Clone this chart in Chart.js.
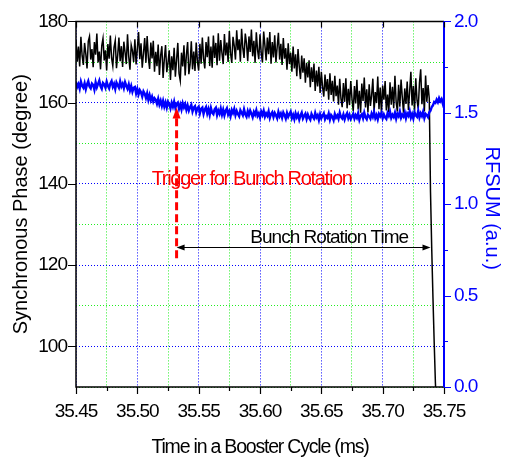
<!DOCTYPE html>
<html>
<head>
<meta charset="utf-8">
<script src="https://cdn.jsdelivr.net/npm/chart.js@4.4.1/dist/chart.umd.min.js"></script>
<style>
  html, body { margin: 0; padding: 0; background: #fff; }
  canvas { display: block; }
</style>
</head>
<body>
<canvas id="chart" width="506" height="457"></canvas>
<script>
// scope samples, 1 us apart
const sampleTimes = [
  35.450, 35.451, 35.452, 35.453, 35.454, 35.455, 35.456, 35.457, 35.458, 35.459,
  35.460, 35.461, 35.462, 35.463, 35.464, 35.465, 35.466, 35.467, 35.468, 35.469,
  35.470, 35.471, 35.472, 35.473, 35.474, 35.475, 35.476, 35.477, 35.478, 35.479,
  35.480, 35.481, 35.482, 35.483, 35.484, 35.485, 35.486, 35.487, 35.488, 35.489,
  35.490, 35.491, 35.492, 35.493, 35.494, 35.495, 35.496, 35.497, 35.498, 35.499,
  35.500, 35.501, 35.502, 35.503, 35.504, 35.505, 35.506, 35.507, 35.508, 35.509,
  35.510, 35.511, 35.512, 35.513, 35.514, 35.515, 35.516, 35.517, 35.518, 35.519,
  35.520, 35.521, 35.522, 35.523, 35.524, 35.525, 35.526, 35.527, 35.528, 35.529,
  35.530, 35.531, 35.532, 35.533, 35.534, 35.535, 35.536, 35.537, 35.538, 35.539,
  35.540, 35.541, 35.542, 35.543, 35.544, 35.545, 35.546, 35.547, 35.548, 35.549,
  35.550, 35.551, 35.552, 35.553, 35.554, 35.555, 35.556, 35.557, 35.558, 35.559,
  35.560, 35.561, 35.562, 35.563, 35.564, 35.565, 35.566, 35.567, 35.568, 35.569,
  35.570, 35.571, 35.572, 35.573, 35.574, 35.575, 35.576, 35.577, 35.578, 35.579,
  35.580, 35.581, 35.582, 35.583, 35.584, 35.585, 35.586, 35.587, 35.588, 35.589,
  35.590, 35.591, 35.592, 35.593, 35.594, 35.595, 35.596, 35.597, 35.598, 35.599,
  35.600, 35.601, 35.602, 35.603, 35.604, 35.605, 35.606, 35.607, 35.608, 35.609,
  35.610, 35.611, 35.612, 35.613, 35.614, 35.615, 35.616, 35.617, 35.618, 35.619,
  35.620, 35.621, 35.622, 35.623, 35.624, 35.625, 35.626, 35.627, 35.628, 35.629,
  35.630, 35.631, 35.632, 35.633, 35.634, 35.635, 35.636, 35.637, 35.638, 35.639,
  35.640, 35.641, 35.642, 35.643, 35.644, 35.645, 35.646, 35.647, 35.648, 35.649,
  35.650, 35.651, 35.652, 35.653, 35.654, 35.655, 35.656, 35.657, 35.658, 35.659,
  35.660, 35.661, 35.662, 35.663, 35.664, 35.665, 35.666, 35.667, 35.668, 35.669,
  35.670, 35.671, 35.672, 35.673, 35.674, 35.675, 35.676, 35.677, 35.678, 35.679,
  35.680, 35.681, 35.682, 35.683, 35.684, 35.685, 35.686, 35.687, 35.688, 35.689,
  35.690, 35.691, 35.692, 35.693, 35.694, 35.695, 35.696, 35.697, 35.698, 35.699,
  35.700, 35.701, 35.702, 35.703, 35.704, 35.705, 35.706, 35.707, 35.708, 35.709,
  35.710, 35.711, 35.712, 35.713, 35.714, 35.715, 35.716, 35.717, 35.718, 35.719,
  35.720, 35.721, 35.722, 35.723, 35.724, 35.725, 35.726, 35.727, 35.728, 35.729,
  35.730, 35.731, 35.732, 35.733, 35.734, 35.735, 35.736, 35.737, 35.738, 35.739,
  35.740, 35.741, 35.742, 35.743, 35.744, 35.745, 35.746, 35.747, 35.748, 35.749,
  35.750
];

// synchronous phase (degree), beam lost after 35.738 ms
const phaseDeg = [
  175.4, 170.1, 173.8, 168.9, 176.2, 171.5, 169.3, 174.7, 172.0, 168.4,
  175.1, 176.3, 170.6, 173.2, 168.7, 174.9, 171.8, 177.0, 169.9, 172.6,
  168.2, 174.0, 175.8, 170.4, 172.9, 167.9, 174.4, 170.8, 176.5, 171.0,
  169.0, 173.6, 175.3, 168.5, 171.7, 176.0, 170.2, 173.9, 168.8, 175.0,
  172.4, 169.5, 176.8, 171.3, 168.1, 174.2, 172.8, 170.0, 175.6, 169.4,
  173.3, 177.4, 170.7, 174.6, 168.6, 172.1, 175.9, 169.8, 176.4, 171.1,
  168.3, 174.8, 170.9, 175.2, 167.6, 172.5, 169.0, 174.3, 166.8, 171.6,
  173.9, 166.1, 170.7, 174.2, 167.5, 169.8, 172.9, 165.6, 171.4, 168.0,
  173.5, 166.4, 170.6, 174.7, 167.2, 165.4, 172.3, 168.9, 174.1, 166.7,
  171.8, 174.9, 167.0, 169.4, 175.1, 168.2, 172.6, 167.8, 174.8, 170.1,
  167.9, 174.5, 169.6, 176.0, 170.8, 168.4, 174.9, 171.2, 176.3, 169.0,
  173.8, 168.6, 176.5, 171.0, 174.7, 169.2, 177.1, 170.3, 175.4, 172.2,
  169.5, 176.9, 171.6, 174.8, 170.0, 177.6, 172.1, 169.8, 176.2, 174.0,
  170.6, 177.8, 172.9, 175.6, 170.1, 178.2, 173.4, 171.0, 177.0, 174.6,
  170.2, 176.3, 172.5, 178.0, 171.4, 175.2, 169.8, 177.3, 173.0, 170.7,
  176.8, 172.2, 169.9, 177.5, 174.1, 170.4, 176.0, 171.9, 177.4, 169.6,
  174.9, 171.1, 176.6, 169.9, 173.7, 177.2, 170.6, 174.5, 169.3,
  175.9, 170.8, 173.4, 168.1, 174.6, 169.5, 172.3, 167.6, 173.8, 168.4,
  171.9, 166.5, 173.2, 168.9, 165.8, 171.6, 167.4, 170.9, 164.9, 169.8,
  166.2, 170.4, 163.8, 168.7, 165.1, 169.6, 162.9, 167.9, 164.0, 168.8,
  162.4, 167.6, 163.9, 161.5, 166.9, 162.8, 165.8, 160.7, 167.2, 161.9,
  165.4, 160.3, 166.6, 161.6, 164.2, 159.5, 165.9, 161.0, 158.9, 164.8,
  160.2, 166.0, 158.6, 163.4, 159.4, 165.3, 160.9, 157.9, 164.1, 159.8,
  165.6, 158.3, 162.9, 157.5, 164.7, 160.4, 166.2, 158.8, 163.3, 157.6,
  164.5, 159.2, 161.8, 165.9, 157.9, 162.6, 159.9, 166.4, 158.4, 163.7,
  157.4, 164.2, 160.7, 165.3, 158.1, 162.0, 157.7, 165.0, 159.5, 163.9,
  158.6, 166.6, 160.1, 157.8, 164.4, 159.0, 165.7, 161.3, 157.5, 163.5,
  159.7, 165.2, 158.2, 162.8, 167.6, 159.3, 164.1, 157.9, 166.0, 160.6,
  158.5, 164.9, 168.2, 159.6, 163.6, 157.8, 166.7, 160.2, 164.3,
  161.0, 138.0, 124.0, 112.0, 101.0, 91.0, 84.0
];

// RF sum signal (a.u.)
const rfsum = [
  1.668, 1.641, 1.657, 1.632, 1.671, 1.648, 1.637, 1.662, 1.629, 1.655,
  1.673, 1.644, 1.634, 1.660, 1.652, 1.626, 1.667, 1.639, 1.658, 1.676,
  1.645, 1.631, 1.664, 1.656, 1.638, 1.670, 1.647, 1.633, 1.661, 1.674,
  1.642, 1.658, 1.630, 1.666, 1.651, 1.637, 1.672, 1.644, 1.659, 1.635,
  1.667, 1.648, 1.631, 1.655, 1.622, 1.646, 1.615, 1.637, 1.641, 1.606,
  1.630, 1.601, 1.624, 1.612, 1.589, 1.617, 1.604, 1.581, 1.606, 1.571,
  1.597, 1.569, 1.588, 1.562, 1.580, 1.571, 1.549, 1.576, 1.545, 1.566,
  1.538, 1.565, 1.534, 1.557, 1.529, 1.560, 1.547, 1.524, 1.555, 1.533,
  1.561, 1.527, 1.549, 1.556, 1.522, 1.545, 1.518, 1.552, 1.530, 1.547,
  1.516, 1.540, 1.512, 1.531, 1.544, 1.507, 1.528, 1.536, 1.503, 1.525,
  1.534, 1.497, 1.522, 1.529, 1.494, 1.518, 1.531, 1.496, 1.520, 1.489,
  1.526, 1.501, 1.493, 1.519, 1.528, 1.488, 1.512, 1.495, 1.523, 1.490,
  1.517, 1.486, 1.511, 1.524, 1.491, 1.508, 1.482, 1.515, 1.499, 1.521,
  1.487, 1.510, 1.493, 1.481, 1.514, 1.500, 1.486, 1.519, 1.492, 1.479,
  1.509, 1.487, 1.512, 1.495, 1.476, 1.505, 1.490, 1.514, 1.483, 1.497,
  1.474, 1.506, 1.488, 1.511, 1.479, 1.497, 1.484, 1.508, 1.472, 1.493,
  1.503, 1.477, 1.499, 1.486, 1.470, 1.505, 1.481, 1.496, 1.473, 1.502,
  1.487, 1.468, 1.499, 1.478, 1.493, 1.506, 1.471, 1.489, 1.465, 1.497,
  1.476, 1.492, 1.463, 1.486, 1.501, 1.469, 1.483, 1.495, 1.466, 1.490,
  1.473, 1.462, 1.494, 1.479, 1.468, 1.499, 1.475, 1.487, 1.461, 1.492,
  1.470, 1.484, 1.497, 1.465, 1.481, 1.472, 1.496, 1.463, 1.488, 1.478,
  1.460, 1.493, 1.474, 1.486, 1.467, 1.500, 1.477, 1.469, 1.491, 1.464,
  1.485, 1.498, 1.471, 1.489, 1.466, 1.480, 1.495, 1.468, 1.487, 1.473,
  1.497, 1.462, 1.484, 1.492, 1.470, 1.501, 1.476, 1.465, 1.490, 1.481,
  1.468, 1.496, 1.478, 1.503, 1.471, 1.488, 1.464, 1.494, 1.482, 1.499,
  1.470, 1.491, 1.475, 1.466, 1.498, 1.483, 1.505, 1.472, 1.489, 1.477,
  1.500, 1.468, 1.494, 1.481, 1.507, 1.473, 1.490, 1.479, 1.502, 1.470,
  1.496, 1.484, 1.509, 1.474, 1.493, 1.469, 1.503, 1.486, 1.478, 1.511,
  1.475, 1.497, 1.482, 1.506, 1.471, 1.494, 1.487, 1.476,
  1.503, 1.512, 1.532, 1.541, 1.559, 1.554, 1.572, 1.558, 1.580, 1.563,
  1.575, 1.551, 1.578
];

// annotation anchors, in axis units (ms / degree)
const triggerTime = 35.532;
const triggerTop = 158.8;
const triggerBottom = 121.7;
const rotationEnd = 35.739;
const rotationLevel = 124.4;
const triggerText = { text: 'Trigger for Bunch Rotation', t: 35.5932, deg: 139.8 };
const rotationText = { text: 'Bunch Rotation Time', t: 35.6564, deg: 125.4 };

const FONT = "'Liberation Sans', Arial, sans-serif";
const BLUE = '#0000ff';

const isMajorX = v => Math.round(v * 1000) % 50 === 0;
const isMajorY = v => Math.round(v) % 20 === 0;
const isMajorY1 = v => Math.round(v * 100) % 50 === 0;

const decorations = {
  id: 'decorations',
  beforeDraw(chart) {
    chart.ctx.letterSpacing = '-1px';
  },
  afterDatasetsDraw(chart) {
    const { ctx, chartArea: a, scales } = chart;
    const { x, y, y1 } = scales;
    ctx.save();
    ctx.setLineDash([]);

    // frame: black on three sides, blue RFSUM axis on the right
    ctx.lineWidth = 1.5;
    ctx.strokeStyle = '#000';
    ctx.beginPath();
    ctx.moveTo(a.right, a.top);
    ctx.lineTo(a.left, a.top);
    ctx.lineTo(a.left, a.bottom);
    ctx.lineTo(a.right, a.bottom);
    ctx.stroke();
    ctx.lineWidth = 2;
    ctx.strokeStyle = BLUE;
    ctx.beginPath();
    ctx.moveTo(a.right, a.top);
    ctx.lineTo(a.right, a.bottom);
    ctx.stroke();

    // tick marks
    ctx.lineWidth = 1.2;
    ctx.strokeStyle = '#000';
    ctx.beginPath();
    x.ticks.forEach(t => {
      const px = Math.round(x.getPixelForValue(t.value)) + 0.5;
      const major = isMajorX(t.value);
      ctx.moveTo(px, a.bottom);
      ctx.lineTo(px, a.bottom + (major ? 7 : 4));
      if (major) {
        ctx.moveTo(px, a.top);
        ctx.lineTo(px, a.top + 6);
      }
    });
    y.ticks.forEach(t => {
      if (!isMajorY(t.value)) return;
      const py = Math.round(y.getPixelForValue(t.value)) + 0.5;
      ctx.moveTo(a.left - 8, py);
      ctx.lineTo(a.left, py);
    });
    ctx.stroke();
    ctx.strokeStyle = BLUE;
    ctx.beginPath();
    y1.ticks.forEach(t => {
      const py = Math.round(y1.getPixelForValue(t.value)) + 0.5;
      ctx.moveTo(a.right, py);
      ctx.lineTo(a.right + (isMajorY1(t.value) ? 7 : 4), py);
    });
    ctx.stroke();

    // trigger marker: dashed red arrow
    const tx = x.getPixelForValue(triggerTime);
    const tipY = y.getPixelForValue(triggerTop);
    ctx.strokeStyle = '#ff0000';
    ctx.fillStyle = '#ff0000';
    ctx.lineWidth = 3;
    ctx.setLineDash([8, 4]);
    ctx.beginPath();
    ctx.moveTo(tx, y.getPixelForValue(triggerBottom));
    ctx.lineTo(tx, tipY + 9);
    ctx.stroke();
    ctx.setLineDash([]);
    ctx.beginPath();
    ctx.moveTo(tx, tipY);
    ctx.lineTo(tx - 4, tipY + 11);
    ctx.lineTo(tx + 4, tipY + 11);
    ctx.closePath();
    ctx.fill();

    // rotation time span
    const ry = Math.round(y.getPixelForValue(rotationLevel)) + 0.5;
    const rx2 = x.getPixelForValue(rotationEnd);
    ctx.strokeStyle = '#000';
    ctx.fillStyle = '#000';
    ctx.lineWidth = 1.2;
    ctx.beginPath();
    ctx.moveTo(tx + 2, ry);
    ctx.lineTo(rx2 - 2, ry);
    ctx.stroke();
    ctx.beginPath();
    ctx.moveTo(tx, ry);
    ctx.lineTo(tx + 8, ry - 3);
    ctx.lineTo(tx + 8, ry + 3);
    ctx.closePath();
    ctx.moveTo(rx2, ry);
    ctx.lineTo(rx2 - 8, ry - 3);
    ctx.lineTo(rx2 - 8, ry + 3);
    ctx.closePath();
    ctx.fill();

    // labels
    ctx.textAlign = 'center';
    ctx.textBaseline = 'alphabetic';
    ctx.font = `20px ${FONT}`;
    ctx.letterSpacing = '-1.3px';
    ctx.fillStyle = '#ff0000';
    ctx.fillText(triggerText.text, x.getPixelForValue(triggerText.t), y.getPixelForValue(triggerText.deg));
    ctx.font = `19px ${FONT}`;
    ctx.letterSpacing = '-1px';
    ctx.fillStyle = '#000';
    ctx.fillText(rotationText.text, x.getPixelForValue(rotationText.t), y.getPixelForValue(rotationText.deg));

    // axis titles
    const midY = (a.top + a.bottom) / 2;
    ctx.font = `19.5px ${FONT}`;
    ctx.letterSpacing = '-1.2px';
    ctx.fillText('Time in a Booster Cycle (ms)', (a.left + a.right) / 2, 452.5);

    ctx.textBaseline = 'middle';
    ctx.font = `20px ${FONT}`;
    ctx.letterSpacing = '0px';
    ctx.save();
    ctx.translate(21, midY);
    ctx.rotate(-Math.PI / 2);
    ctx.fillText('Synchronous Phase (degree)', 0, 0);
    ctx.restore();

    ctx.fillStyle = BLUE;
    ctx.save();
    ctx.translate(492, midY + 4);
    ctx.rotate(Math.PI / 2);
    ctx.fillText('RFSUM (a.u.)', 0, 0);
    ctx.restore();

    ctx.restore();
  },
  afterDraw(chart) {
    chart.ctx.letterSpacing = '0px';
  }
};

new Chart(document.getElementById('chart').getContext('2d'), {
  type: 'line',
  data: {
    labels: sampleTimes,
    datasets: [
      {
        label: 'RFSUM',
        data: rfsum,
        yAxisID: 'y1',
        borderColor: BLUE,
        borderWidth: 2.4,
        pointRadius: 0,
        tension: 0,
        order: 0
      },
      {
        label: 'Synchronous Phase',
        data: phaseDeg,
        yAxisID: 'y',
        borderColor: '#000',
        borderWidth: 1.5,
        pointRadius: 0,
        tension: 0,
        order: 1
      }
    ]
  },
  options: {
    responsive: false,
    animation: false,
    devicePixelRatio: 1,
    layout: { padding: { top: 18, left: 0, right: 0, bottom: 0 } },
    plugins: { legend: { display: false }, tooltip: { enabled: false } },
    scales: {
      x: {
        type: 'linear',
        min: 35.45,
        max: 35.75,
        afterFit: s => { s.height = 70; },
        ticks: {
          stepSize: 0.025,
          autoSkip: false,
          maxRotation: 0,
          padding: 13,
          color: '#000',
          font: { family: FONT, size: 19 },
          callback: v => isMajorX(v) ? v.toFixed(2) : ''
        },
        grid: {
          drawTicks: false,
          lineWidth: 1,
          color: c => isMajorX(c.tick.value) ? BLUE : '#22ee22'
        },
        border: { display: false, dash: [1, 2] }
      },
      y: {
        position: 'left',
        min: 90,
        max: 180,
        afterFit: s => { s.width = 76; },
        ticks: {
          stepSize: 10,
          autoSkip: false,
          padding: 9,
          color: '#000',
          font: { family: FONT, size: 19 },
          callback: v => isMajorY(v) ? String(v) : ''
        },
        grid: {
          drawTicks: false,
          lineWidth: 1,
          color: c => isMajorY(c.tick.value) ? BLUE : '#22ee22'
        },
        border: { display: false, dash: [1, 2] }
      },
      y1: {
        position: 'right',
        min: 0,
        max: 2,
        afterFit: s => { s.width = 62; },
        ticks: {
          stepSize: 0.25,
          autoSkip: false,
          padding: 10,
          color: BLUE,
          font: { family: FONT, size: 19 },
          callback: v => isMajorY1(v) ? v.toFixed(1) : ''
        },
        grid: { drawOnChartArea: false, drawTicks: false },
        border: { display: false }
      }
    }
  },
  plugins: [decorations]
});
</script>
</body>
</html>
